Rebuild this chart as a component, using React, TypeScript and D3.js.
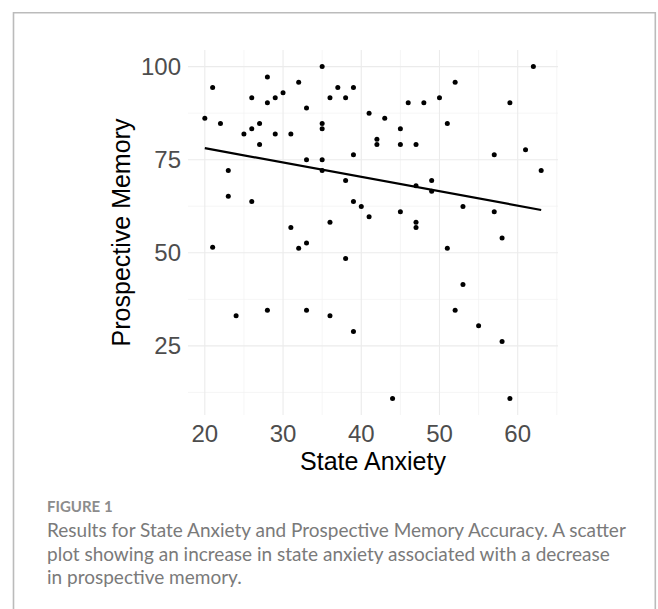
import React from "react";
import * as d3 from "d3";

// State Anxiety (x) and Prospective Memory accuracy (y), one per participant
const anxiety = [
  20, 21, 21, 22, 23, 23, 24, 25, 26, 26, 26, 27, 27, 28, 28, 28, 29, 29, 30, 31,
  31, 32, 32, 33, 33, 33, 33, 35, 35, 35, 35, 35, 36, 36, 36, 37, 38, 38, 38, 39,
  39, 39, 39, 40, 41, 41, 42, 42, 43, 44, 45, 45, 45, 46, 47, 47, 47, 47, 48, 49,
  49, 50, 51, 51, 52, 52, 53, 53, 55, 57, 57, 58, 58, 59, 59, 61, 62, 63,
];
const memory = [
  86.1, 94.4, 51.5, 84.7, 72.1, 65.2, 33.1, 81.9, 91.6, 83.3, 63.8, 84.7, 79.1, 97.2, 90.3, 34.6, 91.6, 81.9, 93.0, 81.9,
  56.8, 95.8, 51.2, 88.9, 75.0, 52.6, 34.6, 100, 84.7, 83.3, 75.0, 72.1, 91.6, 58.2, 33.1, 94.4, 91.6, 69.4, 48.5, 94.4,
  76.3, 63.8, 28.9, 62.4, 87.5, 59.7, 80.5, 79.1, 86.1, 10.9, 83.3, 79.1, 61.0, 90.3, 79.1, 68.0, 58.2, 56.8, 90.3, 69.4,
  66.5, 91.6, 84.7, 51.2, 95.8, 34.6, 62.4, 41.5, 30.4, 76.3, 61.0, 54.0, 26.2, 90.3, 10.9, 77.7, 100, 72.1,
];

// fitted linear trend, read at both ends of the data range
const trendX = [20, 63];
const trendY = [78.1, 61.5];

const xTicks = [20, 30, 40, 50, 60];
const yTicks = [25, 50, 75, 100];
const xMinor = [25, 35, 45, 55, 65];
const yMinor = [12.5, 37.5, 62.5, 87.5];

const captionLabel = "FIGURE 1";
const captionLines = [
  "Results for State Anxiety and Prospective Memory Accuracy. A scatter",
  "plot showing an increase in state anxiety associated with a decrease",
  "in prospective memory.",
];

const width = 658;
const height = 609;
const panel = { left: 188, right: 558, top: 50, bottom: 415 };

const App = () => {
  const xExt = d3.extent(anxiety) as [number, number];
  const yExt = d3.extent(memory) as [number, number];
  const xPad = (xExt[1] - xExt[0]) * 0.05;
  const yPad = (yExt[1] - yExt[0]) * 0.05;

  const xScale = d3
    .scaleLinear()
    .domain([xExt[0] - xPad, xExt[1] + xPad])
    .range([panel.left, panel.right]);
  const yScale = d3
    .scaleLinear()
    .domain([yExt[0] - yPad, yExt[1] + yPad])
    .range([panel.bottom, panel.top]);

  const trend = d3
    .line<number>()
    .x((d) => xScale(d))
    .y((d, i) => yScale(trendY[i]));

  const tickFont = "'Liberation Sans', Arial, sans-serif";

  return (
    <>
      <style>{"body{margin:0}"}</style>
      <svg width={width} height={height} style={{ display: "block" }}>
        <rect width={width} height={height} fill="#fff" />
        {/* frame */}
        <path d={`M13.5,${height} V12.8 H655.3 V${height}`} fill="none" stroke="#bbbbbb" strokeWidth={1.6} />

        {/* grid */}
        <g stroke="#f0f0f0" strokeWidth={0.7}>
          {xMinor.map((v) => (
            <line key={"xm" + v} x1={xScale(v)} x2={xScale(v)} y1={panel.top} y2={panel.bottom} />
          ))}
          {yMinor.map((v) => (
            <line key={"ym" + v} y1={yScale(v)} y2={yScale(v)} x1={panel.left} x2={panel.right} />
          ))}
        </g>
        <g stroke="#ebebeb" strokeWidth={1.1}>
          {xTicks.map((v) => (
            <line key={"x" + v} x1={xScale(v)} x2={xScale(v)} y1={panel.top} y2={panel.bottom} />
          ))}
          {yTicks.map((v) => (
            <line key={"y" + v} y1={yScale(v)} y2={yScale(v)} x1={panel.left} x2={panel.right} />
          ))}
        </g>

        {/* points */}
        {anxiety.map((x, i) => (
          <circle key={i} cx={xScale(x)} cy={yScale(memory[i])} r={2.5} fill="#000" />
        ))}

        {/* regression line */}
        <path d={trend(trendX) || ""} fill="none" stroke="#000" strokeWidth={2.2} />

        {/* tick labels */}
        <g fontFamily={tickFont} fontSize={24} fill="#4d4d4d">
          {xTicks.map((v) => (
            <text key={v} x={xScale(v)} y={433} textAnchor="middle" dominantBaseline="central">
              {v}
            </text>
          ))}
          {yTicks.map((v) => (
            <text key={v} x={181} y={yScale(v)} textAnchor="end" dominantBaseline="central">
              {v}
            </text>
          ))}
        </g>

        {/* axis titles */}
        <text
          x={(panel.left + panel.right) / 2}
          y={461}
          textAnchor="middle"
          dominantBaseline="central"
          fontFamily={tickFont}
          fontSize={25}
          fill="#000"
        >
          State Anxiety
        </text>
        <text
          transform={`translate(121,${(panel.top + panel.bottom) / 2}) rotate(-90)`}
          textAnchor="middle"
          dominantBaseline="central"
          fontFamily={tickFont}
          fontSize={25}
          fill="#000"
        >
          Prospective Memory
        </text>

        {/* caption */}
        <text x={47} y={506} dominantBaseline="central" fontFamily="Lato, 'Open Sans', sans-serif" fontSize={15} fontWeight={700} fill="#8c8c8c">
          {captionLabel}
        </text>
        {captionLines.map((t, i) => (
          <text
            key={i}
            x={47}
            y={529.5 + i * 23.6}
            dominantBaseline="central"
            fontFamily="Lato, 'Open Sans', sans-serif"
            fontSize={19}
            fill="#7a7a7a"
          >
            {t}
          </text>
        ))}
      </svg>
    </>
  );
};

export default App;
